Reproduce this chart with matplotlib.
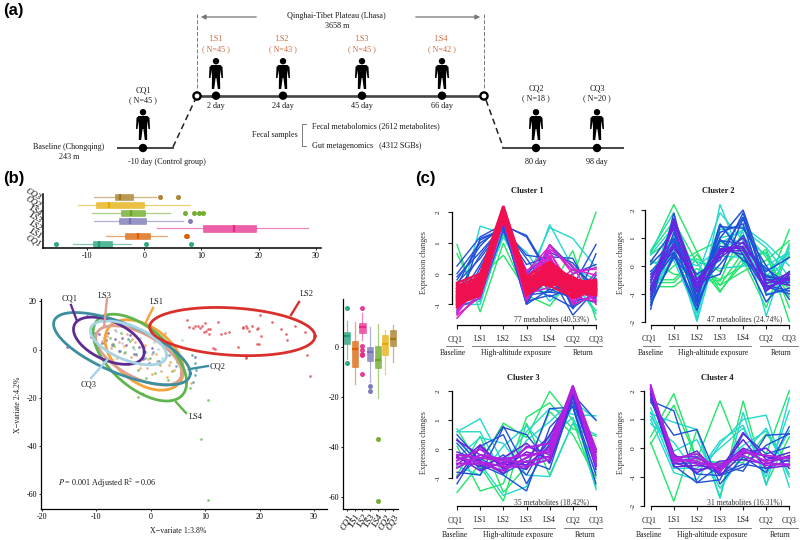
import numpy as np
import matplotlib
matplotlib.use('Agg')
import matplotlib.pyplot as plt
from matplotlib.patches import Circle, Polygon

plt.rcParams['font.family'] = ['Liberation Serif', 'DejaVu Sans']
plt.rcParams['mathtext.fontset'] = 'stix'

W, H = 800, 540

# === Panel (a) labels ===
plateau_groups = ['LS1', 'LS2', 'LS3', 'LS4']
plateau_n = ['( N=45 )', '( N=43 )', '( N=45 )', '( N=42 )']
plateau_days = ['2 day', '24 day', '45 day', '66 day']
return_groups = ['CQ2', 'CQ3']
return_n = ['( N=18 )', '( N=20 )']
return_days = ['80 day', '98 day']

# === Panel (b) data ===
groups = ['CQ1', 'LS1', 'LS2', 'LS3', 'LS4', 'CQ2', 'CQ3']
box_colors = ['#1b9e77', '#d95f02', '#e7298a', '#7570b3', '#66a61e', '#e6ab02', '#a6761d']

# whislo, q1, med, q3, whishi, fliers
top_whislo = [-12.5, -6.7, 2.3, -8.8, -9.1, -11.5, -8.7]
top_q1 = [-8.9, -3.3, 10.3, -4.4, -4.1, -8.4, -5.2]
top_med = [-7.9, -1.1, 15.7, -2.5, -2.4, -6.2, -4.3]
top_q3 = [-5.6, 1.0, 19.5, 0.3, 0.1, -0.1, -2.0]
top_whishi = [-2.4, 3.9, 28.7, 6.7, 4.5, 8.0, 2.0]
top_fliers = [[-15.4, 0.3, 8.1], [7.3, 7.5], [], [8.0], [7.2, 8.7, 9.5, 10.2], [], [2.7, 5.9]]

side_whislo = [-5.0, -15.0, 2.7, -14.0, -20.7, -11.0, -6.3]
side_q1 = [0.9, -8.0, 5.6, -5.9, -8.4, -3.5, 0.1]
side_med = [4.4, -0.9, 8.0, -2.0, -5.2, 1.2, 2.9]
side_q3 = [5.8, 2.3, 9.4, -0.1, 0.4, 4.8, 6.6]
side_whishi = [10.3, 9.8, 13.4, 8.0, 9.1, 6.7, 8.7]
side_fliers = [[15.3, -6.7], [], [15.5, 0.3, -1.3, -2.9, -3.3, -11.1], [-15.7, -17.9], [-37.0, -61.6], [], []]

pts_cq1_x = [-15.3, -11.8, -10.9, -10.3, -9.5, -8.9, -8.3, -7.8, -7.2, -6.6, -5.9, -5.2, -4.5, -3.8, -3.1, -2.2, -1.5, -0.4, 0.3, 8.1]
pts_cq1_y = [1.2, 14.0, 5.1, 7.0, 6.3, 2.6, 3.8, 7.0, 1.9, 4.5, -0.4, 4.9, 2.0, 6.0, -1.9, 1.0, -3.8, -5.4, 0.6, -3.0]
pts_ls1_x = [-7.1, -6.2, -5.0, -4.2, -3.5, -2.7, -1.9, -1.1, -0.5, 0.3, 1.0, 1.7, 2.2, 2.9, 3.6, 4.2, 5.0, 5.6, 6.8, 7.4]
pts_ls1_y = [2.5, -3.4, 1.4, -5.9, 4.5, -2.1, -7.7, 1.9, -4.0, -10.1, -1.6, -6.5, 2.9, -11.3, -5.1, -8.5, -3.3, -13.2, -8.1, -14.0]
pts_ls2_x = [6.7, 7.0, 7.8, 8.2, 8.6, 9.0, 9.5, 9.8, 10.0, 10.2, 10.5, 10.9, 10.7, 12.3, 13.0, 13.7, 14.3, 16.0, 17.0, 16.9, 17.6, 17.7, 18.1, 18.7, 19.6, 19.7, 20.3, 19.5, 19.9, 20.1, 22.2, 24.0, 24.8, 25.0, 26.5, 28.3, 28.8, 29.2, 11.5, 11.8, 17.6, 17.5]
pts_ls2_y = [12.1, 9.4, 8.9, 9.7, 9.9, 8.8, 10.0, 7.3, 11.0, 7.6, 8.6, 8.5, 6.6, 11.5, 6.6, 6.7, 7.2, 1.0, 9.4, 9.0, 10.0, 8.9, 7.9, 10.0, 8.6, 8.9, 5.6, 2.4, 2.2, 14.3, 11.3, 8.5, 6.4, 4.2, 9.8, 7.2, -2.4, -10.8, 0.5, 0.3, -2.9, -3.3]
pts_ls3_x = [-9.0, -8.1, -7.3, -6.5, -5.8, -5.0, -4.3, -3.6, -2.9, -2.0, -1.3, -0.6, 0.2, 1.1, 1.9, 2.6, 3.3]
pts_ls3_y = [3.5, 5.8, 0.8, 8.0, 3.2, -1.2, 6.4, -3.0, 3.1, -5.8, 1.3, -7.8, -1.9, -4.6, -8.9, 7.0, -6.2]
pts_ls4_x = [-7.5, -6.7, -5.5, -4.7, -3.9, -3.2, -2.3, -1.6, -0.9, -0.1, 0.8, 1.5, 2.4, 3.1, 4.0, 4.9, 5.6, 7.2, 10.5, 9.3, 10.5, -2.3, -1.5]
pts_ls4_y = [5.0, 1.7, 6.9, -1.0, 3.6, 0.9, -8.5, 1.6, -11.6, -3.6, -9.8, -6.0, 1.0, -12.7, -9.0, -5.0, -10.0, -15.8, -21.0, -37.0, -62.5, -19.7, -18.2]
pts_cq2_x = [-8.6, -7.0, -5.6, -4.1, -2.7, -1.0, 0.4, 1.5, 3.4, 4.7, 6.1, 7.6, 8.2, 8.1, 7.7, 8.3]
pts_cq2_y = [4.8, 2.2, -0.5, 4.4, -1.6, -3.6, -0.8, -4.9, -2.3, -6.8, -8.5, -2.3, -5.4, -10.5, -13.6, -8.5]
pts_cq3_x = [-6.3, -5.2, -4.0, -3.0, -1.9, -0.8, 0.6, 1.3, 2.1, 3.3, 5.8]
pts_cq3_y = [7.7, 2.9, 8.2, 0.2, 4.7, -1.1, 3.0, 0.2, -3.6, 2.1, 4.0]

# centre x, centre y, half width, half height, phase (deg)
ell_names = ['LS1', 'LS3', 'LS4', 'CQ1', 'CQ2', 'CQ3', 'LS2']
ell_cx = [-1.2, -2.2, -2.0, -7.7, -5.3, -4.1, 15.0]
ell_cy = [-2.2, -2.4, -3.3, 3.7, 0.4, 2.8, 7.5]
ell_ax = [7.2, 7.9, 8.6, 6.5, 12.56, 7.0, 15.2]
ell_ay = [14.6, 12.3, 18.0, 9.8, 15.0, 9.1, 10.0]
ell_phase = [116, 126, 125, 119, 133, 124, 101]
ell_colors = ['#f6a33c', '#dba08e', '#5fb54d', '#5e2d91', '#3c8ea0', '#a6d3e5', '#d9302c']

# === Panel (c) data ===
stage_ticks = ['CQ1', 'LS1', 'LS2', 'LS3', 'LS4', 'CQ2', 'CQ3']

c1_green = [[0.95, -1.25, 1.0, -0.7, -1.05, -0.1, 2.0], [0.65, -0.9, 1.3, -0.4, -0.5, 0.75, -1.5],
            [-0.6, -0.1, 0.6, -0.55, -0.6, -0.3, -1.2]]
c1_cyan = [[-1.25, 1.55, 1.3, 0.7, -0.4, -0.6, 0.0], [-0.8, -0.9, 1.4, -0.5, 1.6, 0.2, -0.2],
           [-0.5, -0.7, 1.2, -0.2, 1.5, 1.15, 0.2], [-1.0, -1.0, 1.5, 0.1, -0.9, -0.2, -1.3]]
c1_blue = [[0.25, 1.2, 1.6, 1.2, -0.1, -0.4, 0.95], [0.0, 1.0, 1.5, 0.6, 0.5, -1.1, 0.65],
           [-0.1, 0.7, 1.55, 1.25, 0.0, -1.35, -0.5], [-0.4, 1.1, 1.45, 0.3, 0.55, 0.5, -0.9],
           [-0.9, 0.3, 1.6, -1.0, -0.5, -0.8, -0.3], [-1.1, -0.8, 1.7, -0.9, -0.7, -1.1, -0.6],
           [-0.7, -0.75, 1.4, -0.6, 0.95, 0.2, -0.4], [-0.3, 0.5, 1.5, 0.5, -0.6, 0.0, 0.3],
           [-0.2, 0.9, 1.65, -0.8, -0.2, -0.9, -0.75], [-0.6, 0.6, 1.55, -1.0, 0.3, -1.0, -0.15],
           [-0.5, -0.6, 1.6, 0.0, 0.7, 0.35, -0.55], [-1.3, 0.2, 1.5, -0.7, -0.6, -0.7, -0.95],
           [-0.85, -0.5, 1.7, -0.95, 0.45, -1.15, -0.05], [-1.2, 1.15, 1.45, -0.3, -0.75, -0.45, -0.8]]
c1_magenta = [[-1.45, -0.6, 1.75, -0.6, 0.95, 0.0, 0.2], [-1.3, -0.3, 1.85, -0.75, 0.7, -0.5, -0.85],
              [-1.1, -0.5, 1.7, 0.1, 0.55, -0.7, -0.2], [-0.9, -0.2, 1.9, -0.2, 0.8, 0.25, -1.0],
              [-0.8, -0.65, 1.8, -0.5, 0.3, -0.9, 0.05], [-1.2, 0.0, 1.75, -0.3, -0.4, -0.3, -0.75],
              [-1.35, -0.75, 1.8, -0.9, 0.6, -1.0, -0.7], [-1.0, 0.05, 1.85, 0.05, 0.9, 0.1, 0.15],
              [-0.7, -0.45, 1.75, -0.85, 0.75, -0.75, -0.9], [-1.25, -0.15, 1.9, -0.65, -0.45, 0.15, -0.05],
              [-0.6, -0.8, 1.7, -0.05, 0.5, -0.95, -0.35]]
c1_red = [[-0.3, 0.0, 2.2, -0.1, 0.4, -0.2, -0.3], [-0.4, -0.1, 2.15, -0.2, 0.3, -0.3, -0.2],
          [-0.5, -0.2, 2.1, -0.3, 0.2, -0.5, -0.4], [-0.6, -0.3, 2.05, -0.4, 0.1, -0.6, -0.5],
          [-0.7, -0.4, 2.0, -0.5, 0.0, -0.7, -0.6], [-0.8, -0.5, 1.95, -0.6, -0.1, -0.4, -0.7],
          [-0.9, -0.6, 1.9, -0.7, -0.2, -0.2, -0.3], [-1.0, -0.7, 1.85, -0.45, -0.3, -0.5, -0.45],
          [-1.1, -0.35, 1.8, -0.25, -0.4, -0.75, -0.55], [-0.55, -0.15, 2.1, -0.65, 0.25, -0.35, -0.65],
          [-0.75, -0.45, 2.0, -0.15, 0.05, -0.55, -0.25], [-0.85, -0.25, 1.95, -0.55, 0.35, -0.65, -0.35],
          [-0.65, -0.55, 1.9, -0.35, -0.05, -0.25, -0.5], [-0.95, -0.05, 2.05, -0.4, -0.25, -0.45, -0.6],
          [-0.45, -0.3, 2.15, -0.6, 0.15, -0.15, -0.4], [-1.05, -0.6, 1.85, -0.3, -0.15, -0.8, -0.5],
          [-0.35, -0.4, 2.0, -0.5, 0.1, -0.6, -0.7], [-0.6, -0.2, 1.95, -0.2, -0.35, -0.4, -0.3],
          [-0.8, -0.1, 2.1, -0.7, 0.2, -0.1, -0.55], [-0.9, -0.5, 1.8, -0.45, 0.0, -0.55, -0.45],
          [-0.7, -0.25, 2.2, -0.35, -0.2, -0.3, -0.35], [-1.0, -0.45, 2.0, -0.55, 0.3, -0.7, -0.6],
          [-0.5, -0.35, 1.9, -0.25, 0.05, -0.45, -0.5], [-0.75, -0.65, 2.05, -0.6, -0.1, -0.2, -0.4]]

c2_green = [[0.45, 2.2, 0.5, -0.9, 0.1, 0.5, -2.0], [0.5, 1.6, 0.1, -0.95, 0.3, -0.8, 1.3],
            [-0.8, 0.0, 0.5, 0.9, 0.2, -1.5, 0.8], [-0.75, -0.75, -0.1, -0.5, 0.0, 0.6, -1.5],
            [0.2, -0.3, -0.4, -0.55, 1.3, 0.3, -1.1], [-0.5, -0.5, 0.4, -0.7, 0.5, -0.9, 0.4],
            [-0.6, -0.6, 0.25, -0.2, 0.7, -0.3, -0.8], [0.4, 1.0, -0.3, -0.7, -0.2, 0.2, 0.9]]
c2_cyan = [[0.55, 1.9, -1.9, 2.2, 0.1, -0.4, 0.6], [0.4, 1.4, -1.5, 1.3, 1.4, 0.8, 0.0],
           [-1.2, 0.7, -2.0, 1.0, 1.2, -1.8, 0.7], [-0.9, 0.3, 0.0, 0.6, 1.0, 0.4, -0.7],
           [-0.3, 1.1, -1.0, 1.5, 0.6, -0.5, 0.3], [-1.4, 0.5, 0.15, -0.1, 0.0, 0.0, 0.5],
           [0.1, 0.2, -1.7, 0.8, 1.3, 0.65, -0.4], [-0.6, 1.7, -0.4, 1.9, 0.9, -1.0, -0.9],
           [-1.0, 0.9, -1.2, 0.35, 0.3, -0.2, 0.45]]
c2_blue = [[-1.55, 1.9, -1.3, 1.5, 0.4, -1.3, -0.3], [-1.4, 0.4, -1.6, 1.0, 2.0, -0.4, -0.5],
           [0.15, 1.3, -1.2, 1.4, 1.35, 0.0, -1.2], [-0.2, 0.6, -0.3, 0.2, 1.9, -0.7, -0.9],
           [-0.5, 1.0, -0.9, 0.9, 0.8, -0.2, 0.3], [-1.0, 0.8, -0.6, -0.3, 1.7, -0.6, -0.6],
           [-0.7, 0.45, -1.45, 0.6, 0.4, -0.9, -0.2], [-1.2, 1.2, -1.1, 1.2, 1.5, -1.05, -0.8],
           [-0.3, 0.5, -0.8, 0.05, 1.1, -0.5, -0.45], [-0.85, 1.5, -0.5, 0.7, 0.6, -0.1, -0.7],
           [0.05, 0.9, -1.35, 0.45, 1.75, -0.75, -1.0], [-1.3, 0.3, -0.7, 0.95, 0.2, -0.35, -0.55]]
c2_purple = [[-1.1, 1.6, -0.8, 0.6, 0.7, -0.9, -0.3], [-0.9, 1.7, -0.5, 0.3, 0.85, -0.5, -0.7],
             [-0.4, 0.8, -0.7, 0.55, 0.65, -0.85, -0.4], [-0.6, 1.4, -0.95, 0.4, 1.0, -0.65, -0.25],
             [-0.8, 0.7, -0.6, 0.5, 0.55, -0.75, -0.5]]

c3_green = [[0.7, -0.6, -1.8, 0.9, -0.9, 0.9, -0.4], [-1.5, -0.5, 0.9, 0.4, 2.0, 1.0, -1.3],
            [0.1, -1.45, -1.2, 1.1, 1.6, 0.7, 0.45], [-0.9, 0.45, -1.5, -0.6, 1.3, 0.5, -1.0]]
c3_cyan = [[0.6, 1.05, -0.5, 0.6, 1.4, 1.2, 1.15], [-0.3, 0.4, 0.2, -0.9, -0.95, 0.9, 0.5],
           [-0.6, -0.9, 0.1, 0.8, -0.1, 1.5, -1.4], [0.3, -0.5, -1.6, -1.3, 0.4, 1.1, -0.8],
           [0.6, 0.6, -0.9, 0.3, 0.95, 1.7, 1.0]]
c3_blue = [[0.5, -0.4, 0.8, -0.7, 1.4, 1.45, -1.2], [-1.2, 0.1, 0.5, -1.2, 0.2, 1.9, 1.0],
           [-0.8, -0.9, 0.75, 0.5, -0.5, 1.65, -0.6], [0.2, -0.7, -0.2, -0.9, 0.5, 1.5, -0.9],
           [-0.95, -0.3, -0.85, -0.4, -0.7, 1.8, -0.5], [0.35, -0.55, -0.9, -1.45, 0.75, 1.6, -0.1]]
c3_purple = [[-1.0, 0.1, -0.7, -0.3, 0.45, 2.0, -0.5], [-0.1, -0.4, -0.85, 0.1, -0.2, 1.9, -0.3],
             [0.3, -0.2, -0.5, -0.7, 0.3, 1.95, -0.1], [-0.3, -0.6, -0.3, 0.2, -0.45, 1.85, -0.6],
             [-0.55, 0.15, -0.65, -0.1, -0.3, 2.05, -0.2], [-0.25, -0.75, -0.45, -0.55, 0.1, 2.0, -0.7]]
c3_violet = [[-0.5, -0.5, -0.75, -0.3, 0.0, 2.2, -0.1], [-0.2, -0.3, -0.4, -0.45, -0.25, 2.15, -0.4],
             [-0.4, 0.0, -0.55, 0.05, 0.2, 2.1, -0.55], [-0.65, -0.2, -0.35, -0.2, -0.1, 2.1, 0.0],
             [-0.3, -0.45, -0.6, -0.6, -0.35, 2.05, -0.3]]

c4_green = [[0.4, 1.9, -0.4, 1.65, -0.4, -0.2, 2.0], [0.2, -1.85, 0.65, -1.7, 1.65, -1.25, 0.4],
            [0.15, 1.5, -0.4, -0.5, -0.5, 0.5, -0.5]]
c4_cyan = [[1.2, 0.9, 0.65, -1.75, 1.25, -1.3, 1.75], [1.0, -0.85, -1.1, 0.15, 1.0, 1.15, -1.35],
           [0.85, 0.2, -0.9, 0.25, 0.8, -1.0, 1.3], [1.4, -0.5, -0.3, -0.6, 0.1, 0.6, -0.9],
           [1.1, -0.1, 0.3, -1.4, -0.2, 0.7, -1.0], [1.25, -0.7, -0.7, 0.0, 0.7, -0.8, 0.6]]
c4_blue = [[1.65, 1.3, -1.2, -0.6, -0.8, 0.45, 0.5], [1.6, 0.45, 0.65, -1.25, -0.3, -0.85, 0.75],
           [1.85, -0.6, -1.2, -1.1, 0.5, -0.2, 0.05], [1.7, -0.25, -0.9, -0.95, -0.65, 0.1, 0.5],
           [1.75, -0.55, -0.5, -0.9, -0.55, -0.7, -0.4]]
c4_purple = [[2.0, -0.3, -0.3, -0.85, 0.55, -0.4, -0.15], [1.9, -0.65, -0.6, -0.7, 0.3, -0.7, -0.6],
             [1.95, -0.45, -0.1, -0.95, -0.2, 0.0, -0.7], [2.05, -0.2, -0.85, -0.45, -0.4, -0.55, -0.25],
             [1.85, -0.5, -0.75, -0.65, 0.0, -0.3, -0.45]]
c4_violet = [[2.15, -0.4, -0.45, -0.75, -0.1, -0.45, -0.3], [2.1, -0.3, -0.55, -0.55, -0.25, -0.6, -0.55],
             [2.2, -0.5, -0.35, -0.65, -0.15, -0.25, -0.35], [2.05, -0.35, -0.2, -0.8, -0.05, -0.5, -0.6]]

col_green = '#22e56a'
col_cyan = '#22d8cc'
col_blue = '#2050d8'
col_purple = '#6a22e0'
col_violet = '#b022e0'
col_magenta = '#d820d0'
col_red = '#f01050'

clusters = [
    ('Cluster 1', '77 metabolites (40.53%)',
     [(c1_green, col_green, 1.0), (c1_cyan, col_cyan, 1.0), (c1_blue, col_blue, 1.0),
      (c1_magenta, col_magenta, 1.1), (c1_red, col_red, 1.7)]),
    ('Cluster 2', '47 metabolites (24.74%)',
     [(c2_green, col_green, 1.0), (c2_cyan, col_cyan, 1.0), (c2_blue, col_blue, 1.1),
      (c2_purple, col_purple, 1.1)]),
    ('Cluster 3', '35 metabolites (18.42%)',
     [(c3_green, col_green, 1.0), (c3_cyan, col_cyan, 1.0), (c3_blue, col_blue, 1.0),
      (c3_purple, col_purple, 1.1), (c3_violet, col_violet, 1.5)]),
    ('Cluster 4', '31 metabolites (16.31%)',
     [(c4_green, col_green, 1.0), (c4_cyan, col_cyan, 1.0), (c4_blue, col_blue, 1.0),
      (c4_purple, col_purple, 1.1), (c4_violet, col_violet, 1.3)]),
]

# === Layout en pixeles para cada panel de (c) ===
layout = [
    dict(x0=457, x1=596, y_axis=451.7, y2=212.3, unit=30.7, xaxis=325.3, ymin=-1, labs=263, ticklab=438, ylab=424,
         tick_y=339.3, rule_y=345.7, grp_y=353, title=(527, 191), note=(552, 319), top=200,
         rules=[(446, 463), (472, 555), (564, 602)], grp_x=[453, 516, 583]),
    dict(x0=650.7, x1=789.3, y_axis=645, y2=210, unit=27.9, xaxis=325, ymin=-2, labs=263, ticklab=633, ylab=621,
         tick_y=338, rule_y=345.7, grp_y=353, title=(718, 191), note=(745, 319), top=200,
         rules=[(643, 660), (669, 751), (760, 798)], grp_x=[650.7, 713, 781]),
    dict(x0=457, x1=596, y_axis=451.7, y2=391.3, unit=28.9, xaxis=506, ymin=-1, labs=443, ticklab=438, ylab=424,
         tick_y=520, rule_y=528.3, grp_y=535, title=(523, 378), note=(552, 502), top=382,
         rules=[(447, 463), (473, 555), (564, 602)], grp_x=[455, 518, 585]),
    dict(x0=650.7, x1=789.3, y_axis=644, y2=390.7, unit=28.75, xaxis=506, ymin=-2, labs=443, ticklab=633, ylab=621,
         tick_y=520, rule_y=528.3, grp_y=535, title=(717, 378), note=(745, 502), top=382,
         rules=[(643, 660), (669, 751), (760, 798)], grp_x=[649, 712, 780]),
]


def px_axes(fig, left, right, top, bottom):
    return fig.add_axes([left / W, 1 - bottom / H, (right - left) / W, (bottom - top) / H])


def draw_box(ax, stat, pos, color, horizontal, width):
    ax.bxp([stat], positions=[pos], widths=width, orientation='horizontal' if horizontal else 'vertical',
           patch_artist=True, manage_ticks=False, showcaps=False,
           boxprops=dict(facecolor=color, edgecolor=color, alpha=0.75, linewidth=0.4),
           whiskerprops=dict(color=color, alpha=0.55, linewidth=0.9),
           medianprops=dict(color=color, linewidth=1.6, alpha=1.0, solid_capstyle='butt'),
           flierprops=dict(marker='o', markerfacecolor=color, markeredgecolor=color, markersize=2.6, alpha=0.85))


def box_stats(i, lo, q1, med, q3, hi, fl):
    return dict(whislo=lo[i], q1=q1[i], med=med[i], q3=q3[i], whishi=hi[i], fliers=fl[i])


fig = plt.figure(figsize=(W / 100, H / 100), dpi=100)

# === Panel (b): boxplot superior ===
ax_top = px_axes(fig, 43, 321, 194, 248)
ax_top.set_xlim(-17.7, 30.9)
ax_top.set_ylim(-0.51, 6.42)
for i, c in enumerate(box_colors):
    draw_box(ax_top, box_stats(i, top_whislo, top_q1, top_med, top_q3, top_whishi, top_fliers), i, c, True, 0.8)
ax_top.set_xticks([-10, 0, 10, 20, 30])
ax_top.set_xticklabels(['-10', '0', '10', '20', '30'])
ax_top.set_yticks(range(7))
ax_top.set_yticklabels(groups, rotation=-30, style='italic', fontsize=6.2, ha='right', rotation_mode='anchor')
ax_top.tick_params(axis='x', labelsize=5.8, length=1.5, width=0.6, pad=1.5)
ax_top.tick_params(axis='y', length=0, pad=1.5)
for s in ['top', 'right']:
    ax_top.spines[s].set_visible(False)
ax_top.spines['left'].set_linewidth(1.1)
ax_top.spines['bottom'].set_linewidth(1.1)

# === Panel (b): scatter con elipses ===
ax_sc = px_axes(fig, 41, 327, 299, 509.3)
ax_sc.set_xlim(-20.17, 32.4)
ax_sc.set_ylim(-66.2, 21.0)
scatter_sets = [(pts_cq1_x, pts_cq1_y, '#7a5aa8'), (pts_ls1_x, pts_ls1_y, '#f6a33c'),
                (pts_ls2_x, pts_ls2_y, '#e2494f'), (pts_ls3_x, pts_ls3_y, '#dba08e'),
                (pts_ls4_x, pts_ls4_y, '#6cbb58'), (pts_cq2_x, pts_cq2_y, '#4d9aac'),
                (pts_cq3_x, pts_cq3_y, '#a6d3e5')]
for xs, ys, c in scatter_sets:
    ax_sc.scatter(xs, ys, s=3.8, color=c, alpha=0.8, linewidths=0)
t = np.linspace(0, 2 * np.pi, 200)
for i, name in enumerate(ell_names):
    ex = ell_cx[i] + ell_ax[i] * np.cos(t)
    ey = ell_cy[i] + ell_ay[i] * np.cos(t + np.radians(ell_phase[i]))
    ax_sc.plot(ex, ey, color=ell_colors[i], lw=2.0)
ax_sc.set_xticks([-20, -10, 0, 10, 20, 30])
ax_sc.set_xticklabels(['-20', '-10', '0', '10', '20', '30'])
ax_sc.set_yticks([-60, -40, -20, 0, 20])
ax_sc.set_yticklabels(['-60', '-40', '-20', '0', '20'])
ax_sc.tick_params(labelsize=5.8, length=1.5, width=0.6, pad=1.5)
for s in ['top', 'right']:
    ax_sc.spines[s].set_visible(False)
ax_sc.spines['left'].set_linewidth(0.9)
ax_sc.spines['bottom'].set_linewidth(0.9)

# === Panel (b): boxplot lateral ===
ax_side = px_axes(fig, 343, 398, 299, 509.3)
ax_side.set_xlim(-0.58, 6.7)
ax_side.set_ylim((346.7 - 509.3) / 2.5, (346.7 - 299) / 2.5)
for i, c in enumerate(box_colors):
    draw_box(ax_side, box_stats(i, side_whislo, side_q1, side_med, side_q3, side_whishi, side_fliers), i, c, False, 0.8)
ax_side.set_xticks(range(7))
ax_side.set_xticklabels(groups, rotation=60, style='italic', fontsize=6.2, ha='right', rotation_mode='anchor')
ax_side.set_yticks([-60, -40, -20, 0])
ax_side.set_yticklabels(['-60', '-40', '-20', '0'])
ax_side.tick_params(axis='y', labelsize=5.8, length=1.5, width=0.6, pad=1.5)
ax_side.tick_params(axis='x', length=1.5, width=0.6, pad=1.5)
for s in ['top', 'right']:
    ax_side.spines[s].set_visible(False)
ax_side.spines['left'].set_linewidth(0.9)
ax_side.spines['bottom'].set_linewidth(0.9)

# === Panel (c) ===
for (title, note, bands), L in zip(clusters, layout):
    bottom = L['xaxis']
    ymin_plot = 2 - (bottom - L['y2']) / L['unit']
    ymax_plot = 2 + (L['y2'] - L['top']) / L['unit']
    ax = px_axes(fig, L['x0'], L['x1'], L['top'], bottom)
    ax.set_xlim(0, 6)
    ax.set_ylim(ymin_plot, ymax_plot)
    ax.patch.set_alpha(0)
    for lines, c, lw in bands:
        for vals in lines:
            ax.plot(range(7), vals, color=c, lw=lw, clip_on=False, solid_joinstyle='miter')
    ax.set_xticks(range(7))
    ax.set_xticklabels([])
    yt = list(range(L['ymin'], 3))
    ax.set_yticks(yt)
    ax.set_yticklabels([])
    ax.tick_params(length=3, width=0.8, color='#222222')
    for s in ['top', 'right']:
        ax.spines[s].set_visible(False)
    ax.spines['left'].set_position(('outward', (L['x0'] - L['y_axis']) * 0.72))
    ax.spines['left'].set_bounds(L['ymin'], 2)
    ax.spines['bottom'].set_bounds(0, 6)
    ax.spines['left'].set_linewidth(0.9)
    ax.spines['bottom'].set_linewidth(0.9)

# === Capa de anotaciones en pixeles (panel a, rotulos y texto) ===
ov = fig.add_axes([0, 0, 1, 1], zorder=10)
ov.set_xlim(0, W)
ov.set_ylim(H, 0)
ov.axis('off')
ov.patch.set_alpha(0)


def put(x, y, s, size=5.9, color='#1a1a1a', **kw):
    kw.setdefault('ha', 'center')
    kw.setdefault('va', 'center')
    ov.text(x, y, s, fontsize=size, color=color, **kw)


def person(x, top):
    half = [(0, 7), (4.5, 7), (6.5, 9), (7, 20), (5.5, 20), (4.5, 12), (4, 19), (4.2, 31), (1.8, 31), (0.4, 20)]
    pts = [(x + a, top + b) for a, b in half] + [(x - a, top + b) for a, b in reversed(half)]
    ov.add_patch(Polygon(pts, closed=True, color='black', lw=0))
    ov.add_patch(Circle((x, top + 3.2), 3.2, color='black', lw=0))


def dot(x, y):
    ov.add_patch(Circle((x, y), 4.2, color='black', lw=0, zorder=5))


for label, x, y in [('(a)', 3, 10), ('(b)', 3, 178), ('(c)', 415, 178)]:
    ov.text(x, y, label, fontsize=12, fontweight='bold', family='Liberation Sans', ha='left', va='center', color='black')

ls_x = [216, 283, 362, 442]
for i, x in enumerate(ls_x):
    put(x, 39, plateau_groups[i], color='#c9683f')
    put(x, 49, plateau_n[i], color='#c9683f')
    person(x, 58)
    dot(x, 95.7)
    put(x, 105.5, plateau_days[i])
ov.plot([197, 484], [95.7, 95.7], color='#444444', lw=1.9, zorder=3)
for x in [197, 484]:
    ov.plot([x, x], [14, 90], color='#777777', lw=0.7, ls=(0, (4, 2)))
    ov.add_patch(Circle((x, 96), 3.6, fc='white', ec='black', lw=1.7, zorder=6))
ov.annotate('', xy=(198, 17), xytext=(259, 17), arrowprops=dict(arrowstyle='-|>', color='#777777', lw=0.9, mutation_scale=7))
ov.annotate('', xy=(483, 17), xytext=(413, 17), arrowprops=dict(arrowstyle='-|>', color='#777777', lw=0.9, mutation_scale=7))
put(336, 16.5, 'Qinghai-Tibet Plateau (Lhasa)')
put(337, 26, '3658 m')

put(143, 90, 'CQ1')
put(143, 100, '( N=45 )')
person(143, 109)
ov.plot([118, 173], [148, 148], color='#444444', lw=1.4, zorder=3)
dot(143, 148)
ov.plot([173, 195], [147, 100], color='#222222', lw=1.1, ls=(0, (4, 2.5)))
put(69, 147, 'Baseline (Chongqing)')
put(69, 157, '243 m')
put(167, 162.5, '-10 day (Control group)')

ret_x = [536, 597]
ov.plot([503, 623], [148, 148], color='#444444', lw=1.4, zorder=3)
ov.plot([486, 503], [100, 147], color='#222222', lw=1.1, ls=(0, (4, 2.5)))
for i, x in enumerate(ret_x):
    put(x, 89, return_groups[i])
    put(x, 98.5, return_n[i])
    person(x, 109)
    dot(x, 148)
    put(x, 162.5, return_days[i])

put(275, 135, 'Fecal samples')
ov.plot([306, 302, 302, 306], [124, 124, 146, 146], color='#666666', lw=0.6)
put(312, 126, 'Fecal metabolomics (2612 metabolites)', ha='left')
put(312, 146, 'Gut metagenomics   (4312 SGBs)', ha='left')

# rotulos del scatter
put(178, 531, 'X\u2212variate 1:3.8%', size=5.7)
put(18, 405, 'X\u2212variate 2:4.2%', size=5.7, rotation=90)
put(58, 483, r'$\mathit{P}$ = 0.001 Adjusted R$^2$ = 0.06', size=5.9, ha='left')
tag_pos = [('LS1', 157, 302, (153, 308), (146, 322)), ('LS3', 105, 296, (107, 299), (104, 327)),
           ('LS4', 196, 417, (176, 402), (186, 413)), ('CQ1', 70, 298, (71, 305), (77, 321)),
           ('CQ2', 218, 367, (190, 369), (208, 366)), ('CQ3', 89, 385, (107, 360), (91, 378)),
           ('LS2', 307, 294, (299, 302), (291, 315))]
for (name, tx, ty, p0, p1), c in zip(tag_pos, ell_colors):
    put(tx, ty, name, size=6)
    ov.plot([p0[0], p1[0]], [p0[1], p1[1]], color=c, lw=1.7)

# rotulos de (c)
group_names = ['Baseline', 'High-altitude exposure', 'Return']
for (title, note, bands), L in zip(clusters, layout):
    put(L['title'][0], L['title'][1], title, size=6, fontweight='bold')
    put(L['note'][0], L['note'][1], note, size=5.5, color='#333333')
    put(L['ylab'], L['labs'], 'Expression changes', size=5.7, rotation=90, color='#333333')
    step = (L['x1'] - L['x0']) / 6
    for i, s in enumerate(stage_ticks):
        put(L['x0'] + i * step - (2 if i == 0 else 0), L['tick_y'], s, size=5.6)
    for v in range(L['ymin'], 3):
        put(L['ticklab'], L['y2'] + (2 - v) * L['unit'], str(v), size=5.4, rotation=90)
    for (a, b), gx, g in zip(L['rules'], L['grp_x'], group_names):
        ov.plot([a, b], [L['rule_y'], L['rule_y']], color='#666666', lw=0.6)
        put(gx, L['grp_y'], g, size=5.5)

fig.savefig('out.png', dpi=100)
